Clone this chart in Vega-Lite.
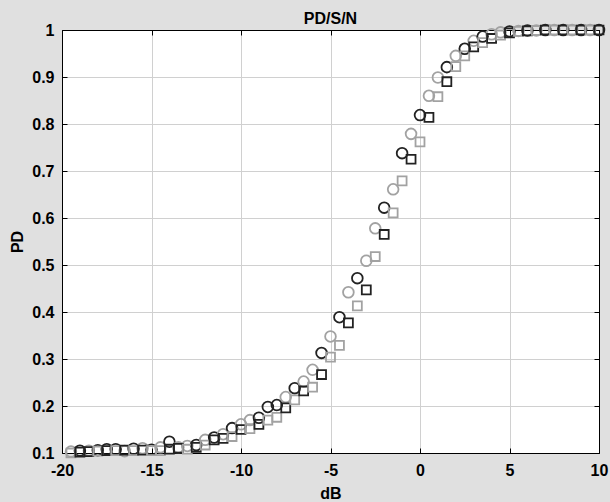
{
  "$schema": "https://vega.github.io/schema/vega-lite/v6.json",
  "width": 537,
  "height": 423,
  "autosize": {"type": "none"},
  "padding": {"left": 62, "top": 30, "right": 11, "bottom": 49},
  "background": "#e0e0e0",
  "title": {"text": "PD/S/N", "fontSize": 16, "fontWeight": "bold", "font": "Liberation Sans", "color": "black", "frame": "group", "anchor": "middle", "offset": -6},
  "config": {
    "view": {"fill": "white", "stroke": "black", "strokeWidth": 1},
    "axis": {"labelFont": "Liberation Sans", "titleFont": "Liberation Sans", "labelFontWeight": "bold", "titleFontWeight": "bold", "labelFontSize": 16, "titleFontSize": 16, "labelColor": "black", "titleColor": "black", "domainColor": "black", "tickColor": "black", "gridColor": "#d0d0d0", "gridWidth": 1, "labelFlush": false}
  },
  "datasets": {
    "pts": [
      {"dB": -19.5, "PD": 0.103, "marker": "circle", "tone": "L"},
      {"dB": -19, "PD": 0.105, "marker": "circle", "tone": "D"},
      {"dB": -18.5, "PD": 0.105, "marker": "circle", "tone": "L"},
      {"dB": -18, "PD": 0.106, "marker": "circle", "tone": "D"},
      {"dB": -17.5, "PD": 0.108, "marker": "circle", "tone": "D"},
      {"dB": -17, "PD": 0.108, "marker": "circle", "tone": "D"},
      {"dB": -16.5, "PD": 0.104, "marker": "circle", "tone": "L"},
      {"dB": -16, "PD": 0.109, "marker": "circle", "tone": "D"},
      {"dB": -15.5, "PD": 0.110, "marker": "circle", "tone": "L"},
      {"dB": -15, "PD": 0.107, "marker": "circle", "tone": "D"},
      {"dB": -14.5, "PD": 0.112, "marker": "circle", "tone": "L"},
      {"dB": -14, "PD": 0.124, "marker": "circle", "tone": "D"},
      {"dB": -13.5, "PD": 0.112, "marker": "circle", "tone": "L"},
      {"dB": -13, "PD": 0.115, "marker": "circle", "tone": "L"},
      {"dB": -12.5, "PD": 0.117, "marker": "circle", "tone": "D"},
      {"dB": -12, "PD": 0.128, "marker": "circle", "tone": "L"},
      {"dB": -11.5, "PD": 0.133, "marker": "circle", "tone": "D"},
      {"dB": -11, "PD": 0.140, "marker": "circle", "tone": "L"},
      {"dB": -10.5, "PD": 0.153, "marker": "circle", "tone": "D"},
      {"dB": -10, "PD": 0.161, "marker": "circle", "tone": "L"},
      {"dB": -9.5, "PD": 0.170, "marker": "circle", "tone": "L"},
      {"dB": -9, "PD": 0.175, "marker": "circle", "tone": "D"},
      {"dB": -8.5, "PD": 0.198, "marker": "circle", "tone": "D"},
      {"dB": -8, "PD": 0.202, "marker": "circle", "tone": "D"},
      {"dB": -7.5, "PD": 0.219, "marker": "circle", "tone": "L"},
      {"dB": -7, "PD": 0.238, "marker": "circle", "tone": "D"},
      {"dB": -6.5, "PD": 0.252, "marker": "circle", "tone": "L"},
      {"dB": -6, "PD": 0.277, "marker": "circle", "tone": "L"},
      {"dB": -5.5, "PD": 0.313, "marker": "circle", "tone": "D"},
      {"dB": -5, "PD": 0.348, "marker": "circle", "tone": "L"},
      {"dB": -4.5, "PD": 0.389, "marker": "circle", "tone": "D"},
      {"dB": -4, "PD": 0.442, "marker": "circle", "tone": "L"},
      {"dB": -3.5, "PD": 0.472, "marker": "circle", "tone": "D"},
      {"dB": -3, "PD": 0.509, "marker": "circle", "tone": "L"},
      {"dB": -2.5, "PD": 0.578, "marker": "circle", "tone": "L"},
      {"dB": -2, "PD": 0.622, "marker": "circle", "tone": "D"},
      {"dB": -1.5, "PD": 0.661, "marker": "circle", "tone": "L"},
      {"dB": -1, "PD": 0.738, "marker": "circle", "tone": "D"},
      {"dB": -0.5, "PD": 0.779, "marker": "circle", "tone": "L"},
      {"dB": 0, "PD": 0.819, "marker": "circle", "tone": "D"},
      {"dB": 0.5, "PD": 0.860, "marker": "circle", "tone": "L"},
      {"dB": 1, "PD": 0.899, "marker": "circle", "tone": "L"},
      {"dB": 1.5, "PD": 0.921, "marker": "circle", "tone": "D"},
      {"dB": 2, "PD": 0.945, "marker": "circle", "tone": "L"},
      {"dB": 2.5, "PD": 0.960, "marker": "circle", "tone": "D"},
      {"dB": 3, "PD": 0.977, "marker": "circle", "tone": "L"},
      {"dB": 3.5, "PD": 0.986, "marker": "circle", "tone": "D"},
      {"dB": 4, "PD": 0.991, "marker": "circle", "tone": "L"},
      {"dB": 4.5, "PD": 0.995, "marker": "circle", "tone": "L"},
      {"dB": 5, "PD": 0.997, "marker": "circle", "tone": "D"},
      {"dB": 5.5, "PD": 0.998, "marker": "circle", "tone": "L"},
      {"dB": 6, "PD": 0.999, "marker": "circle", "tone": "D"},
      {"dB": 6.5, "PD": 0.999, "marker": "circle", "tone": "L"},
      {"dB": 7, "PD": 1.0, "marker": "circle", "tone": "D"},
      {"dB": 7.5, "PD": 1.0, "marker": "circle", "tone": "L"},
      {"dB": 8, "PD": 1.0, "marker": "circle", "tone": "D"},
      {"dB": 8.5, "PD": 1.0, "marker": "circle", "tone": "L"},
      {"dB": 9, "PD": 1.0, "marker": "circle", "tone": "D"},
      {"dB": 9.5, "PD": 1.0, "marker": "circle", "tone": "L"},
      {"dB": 10, "PD": 1.0, "marker": "circle", "tone": "D"},
      {"dB": -19.5, "PD": 0.100, "marker": "square", "tone": "L"},
      {"dB": -19, "PD": 0.102, "marker": "square", "tone": "D"},
      {"dB": -18.5, "PD": 0.103, "marker": "square", "tone": "D"},
      {"dB": -18, "PD": 0.104, "marker": "square", "tone": "L"},
      {"dB": -17.5, "PD": 0.105, "marker": "square", "tone": "D"},
      {"dB": -17, "PD": 0.105, "marker": "square", "tone": "L"},
      {"dB": -16.5, "PD": 0.106, "marker": "square", "tone": "D"},
      {"dB": -16, "PD": 0.105, "marker": "square", "tone": "L"},
      {"dB": -15.5, "PD": 0.106, "marker": "square", "tone": "D"},
      {"dB": -15, "PD": 0.105, "marker": "square", "tone": "L"},
      {"dB": -14.5, "PD": 0.105, "marker": "square", "tone": "L"},
      {"dB": -14, "PD": 0.108, "marker": "square", "tone": "D"},
      {"dB": -13.5, "PD": 0.110, "marker": "square", "tone": "D"},
      {"dB": -13, "PD": 0.108, "marker": "square", "tone": "L"},
      {"dB": -12.5, "PD": 0.112, "marker": "square", "tone": "D"},
      {"dB": -12, "PD": 0.117, "marker": "square", "tone": "L"},
      {"dB": -11.5, "PD": 0.128, "marker": "square", "tone": "D"},
      {"dB": -11, "PD": 0.131, "marker": "square", "tone": "D"},
      {"dB": -10.5, "PD": 0.135, "marker": "square", "tone": "L"},
      {"dB": -10, "PD": 0.150, "marker": "square", "tone": "D"},
      {"dB": -9.5, "PD": 0.152, "marker": "square", "tone": "L"},
      {"dB": -9, "PD": 0.161, "marker": "square", "tone": "D"},
      {"dB": -8.5, "PD": 0.170, "marker": "square", "tone": "L"},
      {"dB": -8, "PD": 0.176, "marker": "square", "tone": "L"},
      {"dB": -7.5, "PD": 0.196, "marker": "square", "tone": "D"},
      {"dB": -7, "PD": 0.213, "marker": "square", "tone": "L"},
      {"dB": -6.5, "PD": 0.232, "marker": "square", "tone": "D"},
      {"dB": -6, "PD": 0.240, "marker": "square", "tone": "L"},
      {"dB": -5.5, "PD": 0.267, "marker": "square", "tone": "D"},
      {"dB": -5, "PD": 0.304, "marker": "square", "tone": "L"},
      {"dB": -4.5, "PD": 0.329, "marker": "square", "tone": "L"},
      {"dB": -4, "PD": 0.377, "marker": "square", "tone": "D"},
      {"dB": -3.5, "PD": 0.413, "marker": "square", "tone": "L"},
      {"dB": -3, "PD": 0.447, "marker": "square", "tone": "D"},
      {"dB": -2.5, "PD": 0.518, "marker": "square", "tone": "L"},
      {"dB": -2, "PD": 0.565, "marker": "square", "tone": "D"},
      {"dB": -1.5, "PD": 0.611, "marker": "square", "tone": "L"},
      {"dB": -1, "PD": 0.679, "marker": "square", "tone": "L"},
      {"dB": -0.5, "PD": 0.725, "marker": "square", "tone": "D"},
      {"dB": 0, "PD": 0.762, "marker": "square", "tone": "L"},
      {"dB": 0.5, "PD": 0.814, "marker": "square", "tone": "D"},
      {"dB": 1, "PD": 0.858, "marker": "square", "tone": "L"},
      {"dB": 1.5, "PD": 0.890, "marker": "square", "tone": "D"},
      {"dB": 2, "PD": 0.922, "marker": "square", "tone": "L"},
      {"dB": 2.5, "PD": 0.945, "marker": "square", "tone": "L"},
      {"dB": 3, "PD": 0.964, "marker": "square", "tone": "D"},
      {"dB": 3.5, "PD": 0.973, "marker": "square", "tone": "L"},
      {"dB": 4, "PD": 0.982, "marker": "square", "tone": "D"},
      {"dB": 4.5, "PD": 0.989, "marker": "square", "tone": "L"},
      {"dB": 5, "PD": 0.994, "marker": "square", "tone": "D"},
      {"dB": 5.5, "PD": 0.997, "marker": "square", "tone": "L"},
      {"dB": 6, "PD": 0.998, "marker": "square", "tone": "D"},
      {"dB": 6.5, "PD": 0.999, "marker": "square", "tone": "L"},
      {"dB": 7, "PD": 1.0, "marker": "square", "tone": "D"},
      {"dB": 7.5, "PD": 1.0, "marker": "square", "tone": "L"},
      {"dB": 8, "PD": 1.0, "marker": "square", "tone": "D"},
      {"dB": 8.5, "PD": 1.0, "marker": "square", "tone": "L"},
      {"dB": 9, "PD": 1.0, "marker": "square", "tone": "D"},
      {"dB": 9.5, "PD": 1.0, "marker": "square", "tone": "L"},
      {"dB": 10, "PD": 1.0, "marker": "square", "tone": "D"}
    ]
  },
  "layer": [
    {
      "data": {"name": "pts"},
      "mark": {"type": "point", "filled": false, "strokeWidth": 1.8, "opacity": 1},
      "encoding": {
        "x": {"field": "dB", "type": "quantitative", "scale": {"domain": [-20, 10], "nice": false, "zero": false},
          "axis": {"values": [-20, -15, -10, -5, 0, 5, 10], "grid": true, "tickSize": -5, "labelPadding": 14, "title": "dB", "titlePadding": 7, "labelExpr": "toString(datum.value)"}},
        "y": {"field": "PD", "type": "quantitative", "scale": {"domain": [0.1, 1], "nice": false, "zero": false},
          "axis": {"values": [0.1, 0.2, 0.3, 0.4, 0.5, 0.6, 0.7, 0.8, 0.9, 1], "grid": true, "tickSize": -5, "labelPadding": 13, "format": ".1~f", "title": "PD", "titlePadding": 6}},
        "shape": {"field": "marker", "type": "nominal", "scale": {"domain": ["circle", "square"], "range": ["circle", "square"]}, "legend": null},
        "size": {"field": "marker", "type": "nominal", "scale": {"domain": ["circle", "square"], "range": [115, 80]}, "legend": null},
        "stroke": {"field": "tone", "type": "nominal", "scale": {"domain": ["D", "L"], "range": ["#222222", "#a2a2a2"]}, "legend": null}
      }
    },
    {
      "data": {"name": "pts"},
      "mark": {"type": "point", "opacity": 0},
      "encoding": {
        "x": {"field": "dB", "type": "quantitative", "scale": {"domain": [-20, 10], "nice": false, "zero": false},
          "axis": {"orient": "top", "values": [-20, -15, -10, -5, 0, 5, 10], "grid": false, "labels": false, "tickSize": -5, "title": null}},
        "y": {"field": "PD", "type": "quantitative", "scale": {"domain": [0.1, 1], "nice": false, "zero": false},
          "axis": {"orient": "right", "values": [0.1, 0.2, 0.3, 0.4, 0.5, 0.6, 0.7, 0.8, 0.9, 1], "grid": false, "labels": false, "tickSize": -5, "title": null}}
      }
    }
  ],
  "resolve": {"scale": {"x": "independent", "y": "independent"}}
}
